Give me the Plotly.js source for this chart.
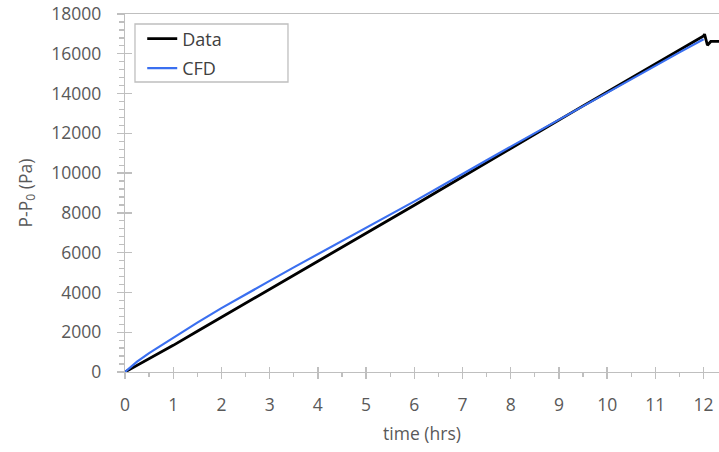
<!DOCTYPE html>
<html>
<head>
<meta charset="utf-8">
<script src="https://cdn.plot.ly/plotly-3.0.1.min.js"></script>
<style>html,body{margin:0;padding:0;background:#fff;}#chart{width:719px;height:452px;}</style>
</head>
<body>
<div id="chart"></div>
<script>
// Measured data (time in hrs, pressure rise in Pa)
const dataTime = [0, 0.5, 1, 1.5, 2, 2.5, 3, 3.5, 4, 4.5, 5, 5.5, 6, 6.5, 7, 7.5, 8, 8.5, 9, 9.5, 10, 10.5, 11, 11.5, 12, 12.02, 12.08, 12.15, 12.35];
const dataP    = [0, 650, 1340, 2050, 2760, 3480, 4180, 4880, 5570, 6270, 6960, 7670, 8380, 9100, 9820, 10530, 11240, 11950, 12660, 13380, 14080, 14790, 15490, 16190, 16900, 16990, 16430, 16620, 16620];

// CFD prediction
const cfdTime = [0, 0.25, 0.5, 1, 1.5, 2, 2.5, 3, 3.5, 4, 4.5, 5, 5.5, 6, 6.5, 7, 7.5, 8, 8.5, 9, 9.5, 10, 10.5, 11, 11.5, 12];
const cfdP    = [0, 520, 950, 1720, 2480, 3210, 3910, 4580, 5260, 5920, 6570, 7220, 7900, 8580, 9260, 9970, 10650, 11330, 12010, 12690, 13390, 14060, 14740, 15410, 16070, 16730];

const xTicks = [0,1,2,3,4,5,6,7,8,9,10,11,12];
const yTicks = [0,2000,4000,6000,8000,10000,12000,14000,16000,18000];

const grey = '#bfbfbf';
const txt = '#595959';
const fnt = {family: '"Open Sans", "Noto Sans", sans-serif', size: 17.5, color: txt};

const traces = [
  {x: dataTime, y: dataP, name: 'Data', type: 'scatter', mode: 'lines', legendgroup: 'a',
   line: {color: '#000000', width: 2.8}},
  {x: cfdTime, y: cfdP, name: 'CFD', type: 'scatter', mode: 'lines', legendgroup: 'b',
   line: {color: '#3a6ff0', width: 2.2}},
  // invisible trace to activate the overlay axes for crossing tick marks
  {x: [0], y: [0], xaxis: 'x2', yaxis: 'y2', mode: 'markers', marker: {opacity: 0}, showlegend: false, hoverinfo: 'skip'}
];

const layout = {
  width: 719, height: 452,
  margin: {l: 125, r: 0, t: 14, b: 80},
  paper_bgcolor: '#fff', plot_bgcolor: '#fff',
  font: fnt,
  showlegend: true,
  legend: {x: 0.029, y: 0.982, xanchor: 'left', yanchor: 'top',
           bgcolor: 'rgba(0,0,0,0)', borderwidth: 0,
           tracegroupgap: 3,
           font: {family: fnt.family, size: 18, color: '#404040'}},
  shapes: [
    {type: 'rect', xref: 'paper', yref: 'paper', x0: 0.0168, x1: 0.2744, y0: 0.810, y1: 0.972,
     line: {color: grey, width: 1.3}, fillcolor: 'rgba(0,0,0,0)', layer: 'above'}
  ],
  xaxis: {
    range: [0, 12.32], tickvals: xTicks, ticktext: xTicks.map(String),
    showgrid: false, zeroline: false,
    showline: true, linecolor: grey, linewidth: 1.3, mirror: true,
    ticks: 'outside', ticklen: 6, tickcolor: grey, tickwidth: 1.3,
    minor: {dtick: 0.5, ticks: 'outside', ticklen: 4, tickcolor: grey, tickwidth: 1.3},
    ticklabelstandoff: 11,
    tickfont: fnt,
    title: {text: 'time (hrs)', font: fnt, standoff: 12}
  },
  yaxis: {
    range: [0, 18000], tickvals: yTicks, ticktext: yTicks.map(String),
    showgrid: false, zeroline: false,
    showline: true, linecolor: grey, linewidth: 1.3,
    ticks: 'outside', ticklen: 7, tickcolor: grey, tickwidth: 1.3,
    minor: {dtick: 400, ticks: 'outside', ticklen: 5, tickcolor: grey, tickwidth: 1.3},
    ticklabelstandoff: 12,
    tickfont: fnt,
    title: {text: 'P-P<sub>0</sub> (Pa)', font: fnt, standoff: 14}
  },
  xaxis2: {overlaying: 'x', matches: 'x', range: [0, 12.32], tickvals: xTicks,
    showticklabels: false, showgrid: false, zeroline: false, showline: false,
    ticks: 'inside', ticklen: 5, tickcolor: grey, tickwidth: 1.3},
  yaxis2: {overlaying: 'y', matches: 'y', range: [0, 18000], tickvals: yTicks,
    showticklabels: false, showgrid: false, zeroline: false, showline: false,
    ticks: 'inside', ticklen: 7, tickcolor: grey, tickwidth: 1.3}
};

Plotly.newPlot('chart', traces, layout, {staticPlot: true, displayModeBar: false});
</script>
</body>
</html>
